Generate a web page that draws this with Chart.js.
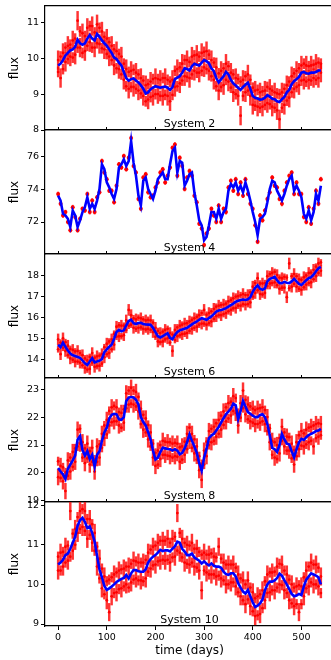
<!DOCTYPE html>
<html>
<head>
<meta charset="utf-8">
<script src="https://cdn.jsdelivr.net/npm/chart.js@4.4.1/dist/chart.umd.min.js"></script>
<style>
  html, body { margin: 0; padding: 0; background: #fff; overflow: hidden; }
  #wrap { position: relative; width: 331px; height: 660px; overflow: hidden; }
  #wrap canvas { position: absolute; left: 0; }
</style>
</head>
<body>
<div id="wrap"></div>
<script>
// observation times (days)
var days = [
  0, 5, 10, 15, 20, 25, 30, 35, 40, 45,
  50, 55, 60, 65, 70, 75, 80, 85, 90, 95,
  100, 105, 110, 115, 120, 125, 130, 135, 140, 145,
  150, 155, 160, 165, 170, 175, 180, 185, 190, 195,
  200, 205, 210, 215, 220, 225, 230, 235, 240, 245,
  250, 255, 260, 265, 270, 275, 280, 285, 290, 295,
  300, 305, 310, 315, 320, 325, 330, 335, 340, 345,
  350, 355, 360, 365, 370, 375, 380, 385, 390, 395,
  400, 405, 410, 415, 420, 425, 430, 435, 440, 445,
  450, 455, 460, 465, 470, 475, 480, 485, 490, 495,
  500, 505, 510, 515, 520, 525, 530, 535, 540
];
var timeTicks = [0, 100, 200, 300, 400, 500];

// System 2
var sys2Ticks = [8, 9, 10, 11];
var sys2Fit = [
  9.80, 9.85, 9.95, 10.08, 10.15, 10.22, 10.25, 10.32, 10.52, 10.42,
  10.38, 10.42, 10.55, 10.65, 10.55, 10.50, 10.68, 10.60, 10.50, 10.42,
  10.35, 10.25, 10.15, 10.02, 9.98, 9.88, 9.80, 9.62, 9.45, 9.38,
  9.42, 9.44, 9.38, 9.33, 9.25, 9.15, 9.02, 9.05, 9.14, 9.18,
  9.22, 9.20, 9.18, 9.20, 9.21, 9.18, 9.12, 9.20, 9.42, 9.46,
  9.50, 9.60, 9.72, 9.70, 9.66, 9.78, 9.85, 9.82, 9.80, 9.88,
  9.95, 9.92, 9.86, 9.72, 9.64, 9.45, 9.33, 9.42, 9.50, 9.62,
  9.55, 9.40, 9.30, 9.24, 9.18, 9.12, 9.20, 9.26, 9.32, 9.15,
  8.95, 8.90, 8.88, 8.85, 8.86, 8.90, 8.97, 8.93, 8.87, 8.86,
  8.80, 8.78, 8.86, 8.92, 9.05, 9.12, 9.28, 9.36, 9.42, 9.48,
  9.60, 9.62, 9.58, 9.57, 9.60, 9.60, 9.62, 9.66, 9.66
];
var sys2ObsA = [
  9.95, 9.45, 10.15, 9.90, 10.35, 10.05, 10.50, 10.10, 11.05, 10.30,
  10.70, 10.20, 10.85, 10.45, 10.90, 10.30, 10.95, 10.40, 10.75, 10.25,
  10.55, 10.05, 10.35, 9.80, 10.20, 9.70, 10.05, 9.40, 9.70, 9.15,
  9.65, 9.20, 9.60, 9.10, 9.45, 8.95, 9.25, 8.85, 9.35, 8.95,
  9.45, 9.00, 9.40, 8.95, 9.45, 8.95, 8.80, 9.40, 9.20, 9.70,
  9.30, 9.85, 9.50, 9.95, 9.45, 10.05, 9.65, 10.10, 9.60, 10.15,
  9.75, 10.20, 9.65, 9.95, 9.40, 9.75, 9.10, 9.65, 9.25, 9.85,
  9.35, 9.60, 9.05, 9.45, 8.95, 8.40, 9.40, 9.05, 9.55, 8.95,
  8.70, 9.10, 8.65, 9.05, 8.65, 9.10, 8.75, 9.15, 8.65, 9.05,
  8.55, 8.30, 9.05, 8.70, 9.25, 8.90, 9.50, 9.15, 9.65, 9.25,
  9.80, 9.40, 9.80, 9.40, 9.80, 9.45, 9.85, 9.45, 9.60
];
var sys2ObsB = [
  9.62, 10.05, 9.70, 10.30, 9.98, 10.38, 10.02, 10.55, 10.30, 10.75,
  10.15, 10.62, 10.35, 10.90, 10.30, 10.72, 10.42, 10.85, 10.28, 10.60,
  10.12, 10.45, 9.95, 10.25, 9.72, 10.12, 9.55, 9.85, 9.22, 9.62,
  9.20, 9.68, 9.15, 9.55, 9.02, 9.38, 8.80, 9.28, 8.92, 9.42,
  9.00, 9.42, 8.95, 9.45, 8.98, 9.40, 9.35, 8.98, 9.65, 9.22,
  9.75, 9.38, 9.95, 9.48, 9.90, 9.55, 10.08, 9.60, 10.05, 9.65,
  10.18, 9.70, 10.10, 9.50, 9.88, 9.22, 9.58, 9.20, 9.72, 9.40,
  9.78, 9.18, 9.55, 9.00, 9.42, 9.35, 8.95, 9.50, 9.10, 9.40,
  9.18, 8.68, 9.12, 8.62, 9.08, 8.70, 9.20, 8.72, 9.10, 8.62,
  9.02, 9.00, 8.62, 9.15, 8.82, 9.35, 9.05, 9.58, 9.20, 9.72,
  9.38, 9.85, 9.35, 9.78, 9.38, 9.82, 9.40, 9.88, 9.85
];

// System 4
var sys4Ticks = [72, 74, 76];
var sys4Fit = [
  73.6, 73.3, 72.5, 72.4, 72.2, 71.7, 72.7, 72.4, 71.7, 72.1,
  72.6, 72.9, 73.5, 72.8, 73.1, 72.8, 73.3, 74.0, 75.5, 75.2,
  74.4, 74.1, 73.7, 73.4, 74.0, 75.3, 75.5, 75.8, 75.4, 75.7,
  76.9, 75.6, 74.8, 73.6, 73.0, 74.5, 74.7, 74.0, 73.7, 73.4,
  73.9, 74.6, 74.8, 75.0, 74.6, 74.6, 75.5, 76.3, 76.5, 75.0,
  75.7, 75.6, 74.2, 74.5, 74.9, 75.0, 73.8, 73.0, 72.1, 71.8,
  70.9, 71.1, 71.8, 72.6, 72.6, 72.2, 72.8, 72.2, 72.6, 72.8,
  73.9, 74.3, 74.1, 74.4, 73.9, 74.2, 73.8, 74.4, 73.9, 73.3,
  72.6, 72.0, 71.2, 72.2, 72.3, 72.5, 73.2, 74.0, 74.5, 74.4,
  73.9, 73.6, 73.3, 73.7, 74.2, 74.6, 74.8, 73.9, 74.2, 73.9,
  73.5, 72.5, 72.2, 72.7, 72.1, 72.6, 73.7, 73.3, 74.2
];
var sys4ObsA = [
  73.7, 73.1, 72.4, 72.6, 72.0, 71.5, 72.9, 72.3, 71.5, 72.2,
  72.8, 72.7, 73.7, 72.6, 73.3, 72.6, 73.5, 73.8, 75.7, 75.0,
  74.6, 73.9, 73.9, 73.2, 74.2, 75.5, 75.3, 76.0, 75.2, 75.9,
  77.1, 75.4, 75.0, 73.4, 72.8, 74.7, 74.9, 73.8, 73.5, 73.6,
  74.1, 74.4, 75.0, 75.2, 74.4, 74.8, 75.3, 76.5, 76.7, 74.8,
  75.9, 75.4, 74.0, 74.7, 75.1, 74.8, 73.6, 73.2, 71.9, 71.6,
  70.6, 71.3, 71.6, 72.8, 72.4, 72.0, 73.0, 72.0, 72.8, 72.6,
  74.1, 74.5, 73.9, 74.6, 73.7, 74.4, 73.6, 74.6, 73.7, 73.1,
  72.8, 71.8, 70.8, 72.4, 72.1, 72.7, 73.4, 73.8, 74.7, 74.2,
  74.1, 73.4, 73.1, 73.9, 74.4, 74.8, 75.0, 73.7, 74.4, 73.7,
  73.7, 72.3, 72.0, 72.9, 71.9, 72.8, 73.9, 73.1, 74.6
];

// System 6
var sys6Ticks = [14, 15, 16, 17, 18];
var sys6Fit = [
  14.70, 14.58, 14.80, 14.60, 14.42, 14.28, 14.20, 14.16, 14.12, 14.08,
  13.95, 13.82, 13.74, 13.90, 14.06, 13.86, 13.90, 13.95, 14.02, 14.35,
  14.48, 14.60, 14.70, 14.98, 15.30, 15.40, 15.33, 15.38, 15.62, 15.82,
  15.88, 15.72, 15.68, 15.73, 15.74, 15.68, 15.66, 15.65, 15.64, 15.50,
  15.30, 15.10, 15.04, 15.10, 15.18, 15.24, 15.02, 14.96, 15.16, 15.30,
  15.38, 15.42, 15.46, 15.50, 15.58, 15.66, 15.74, 15.80, 15.88, 15.96,
  15.92, 15.88, 15.96, 16.04, 16.15, 16.27, 16.32, 16.35, 16.38, 16.43,
  16.50, 16.58, 16.65, 16.74, 16.78, 16.82, 16.84, 16.82, 16.85, 16.95,
  17.20, 17.40, 17.52, 17.35, 17.30, 17.37, 17.70, 17.82, 17.86, 17.92,
  17.75, 17.63, 17.62, 17.68, 17.64, 17.62, 17.70, 17.82, 17.70, 17.58,
  17.53, 17.64, 17.76, 17.85, 17.90, 18.02, 18.18, 18.32, 18.39
];
var sys6ObsA = [
  14.95, 14.25, 15.00, 14.40, 14.65, 14.05, 14.45, 13.90, 14.40, 13.85,
  14.20, 13.60, 13.95, 13.55, 14.30, 13.65, 14.15, 13.70, 14.25, 14.10,
  14.75, 14.30, 14.95, 14.70, 15.55, 15.10, 15.60, 15.15, 15.85, 16.35,
  16.10, 15.50, 15.90, 15.50, 15.95, 15.45, 15.85, 15.45, 15.85, 15.30,
  15.50, 14.85, 15.25, 14.85, 15.40, 15.00, 15.25, 14.40, 15.40, 15.10,
  15.60, 15.20, 15.70, 15.25, 15.80, 15.45, 15.95, 15.55, 16.10, 15.70,
  16.35, 15.65, 16.20, 15.80, 16.40, 16.05, 16.55, 16.10, 16.60, 16.20,
  16.75, 16.35, 16.90, 16.45, 17.00, 16.55, 17.10, 16.60, 17.05, 16.70,
  17.45, 17.15, 17.85, 17.10, 17.60, 17.15, 17.95, 17.60, 18.10, 17.65,
  18.00, 17.35, 17.85, 17.40, 16.95, 18.55, 17.45, 18.05, 17.45, 17.80,
  17.30, 17.90, 17.55, 18.10, 17.65, 18.25, 17.95, 18.55, 18.20
];
var sys6ObsB = [
  14.48, 14.80, 14.55, 14.82, 14.20, 14.50, 13.98, 14.38, 13.90, 14.30,
  13.72, 14.05, 13.52, 14.12, 13.85, 14.08, 13.68, 14.18, 13.80, 14.58,
  14.25, 14.85, 14.48, 15.22, 15.08, 15.62, 15.10, 15.60, 15.40, 15.60,
  15.65, 15.95, 15.45, 15.98, 15.52, 15.90, 15.42, 15.88, 15.40, 15.75,
  15.08, 15.35, 14.82, 15.32, 14.95, 15.45, 14.80, 15.18, 14.92, 15.52,
  15.15, 15.65, 15.22, 15.72, 15.35, 15.88, 15.50, 16.02, 15.65, 16.20,
  15.70, 16.12, 15.72, 16.28, 15.92, 16.50, 16.10, 16.58, 16.15, 16.65,
  16.28, 16.82, 16.42, 16.98, 16.55, 17.05, 16.62, 17.05, 16.62, 17.18,
  16.98, 17.62, 17.28, 17.60, 17.08, 17.62, 17.48, 18.05, 17.62, 18.15,
  17.52, 17.88, 17.40, 17.92, 17.88, 17.38, 17.95, 17.58, 17.95, 17.35,
  17.78, 17.42, 17.98, 17.62, 18.12, 17.80, 18.40, 18.10, 18.60
];

// System 8
var sys8Ticks = [19, 20, 21, 22, 23];
var sys8Fit = [
  20.18, 20.05, 19.95, 19.78, 20.15, 20.30, 20.45, 20.62, 21.20, 21.32,
  20.82, 20.62, 20.78, 20.50, 20.65, 20.22, 20.65, 20.78, 21.15, 21.45,
  21.62, 21.95, 22.08, 22.12, 22.10, 21.92, 21.90, 22.00, 22.58, 22.70,
  22.72, 22.70, 22.62, 22.45, 22.00, 21.82, 21.70, 21.46, 21.20, 20.80,
  20.48, 20.55, 20.75, 20.90, 20.88, 20.86, 20.85, 20.80, 20.85, 20.80,
  20.67, 20.72, 20.88, 21.10, 21.38, 21.15, 20.95, 20.72, 20.35, 20.08,
  20.55, 20.86, 21.25, 21.34, 21.40, 21.52, 21.65, 21.80, 21.96, 22.10,
  22.20, 22.30, 22.48, 22.42, 21.92, 22.22, 22.58, 22.38, 22.18, 22.12,
  22.05, 22.00, 22.00, 22.08, 22.10, 22.00, 21.75, 21.35, 20.90, 20.85,
  20.75, 21.00, 21.40, 21.20, 21.05, 21.02, 20.78, 20.56, 20.85, 21.10,
  21.22, 21.18, 21.28, 21.36, 21.40, 21.44, 21.50, 21.52, 21.58
];
var sys8ObsA = [
  19.85, 20.25, 19.70, 19.35, 20.45, 20.05, 20.75, 20.40, 21.55, 21.05,
  21.10, 20.35, 21.05, 20.30, 20.90, 20.05, 20.95, 20.55, 21.40, 21.25,
  21.90, 21.70, 22.35, 21.85, 22.35, 21.70, 22.15, 21.80, 22.85, 22.45,
  23.05, 22.45, 22.90, 22.20, 22.30, 21.55, 21.95, 21.20, 21.45, 20.55,
  20.25, 20.80, 20.50, 21.15, 20.65, 21.10, 20.60, 21.05, 20.60, 21.05,
  20.40, 20.95, 20.65, 21.40, 21.15, 21.40, 20.70, 20.95, 20.10, 19.75,
  20.80, 20.60, 21.50, 21.10, 21.65, 21.30, 21.90, 21.55, 22.20, 21.85,
  22.50, 22.05, 22.75, 22.15, 21.70, 22.50, 22.95, 22.10, 22.45, 21.85,
  22.30, 21.75, 22.30, 21.80, 22.35, 21.75, 22.00, 21.10, 21.15, 20.55,
  21.00, 20.70, 21.65, 20.95, 21.30, 20.80, 21.05, 20.30, 21.10, 20.85,
  21.50, 20.95, 21.55, 21.10, 21.65, 20.95, 21.75, 21.30, 21.75
];
var sys8ObsB = [
  20.42, 19.82, 20.20, 20.02, 19.90, 20.55, 20.22, 20.88, 20.95, 21.58,
  20.55, 20.88, 20.52, 20.78, 20.40, 20.48, 20.40, 21.02, 20.90, 21.70,
  21.38, 22.22, 21.82, 22.40, 21.85, 22.18, 21.62, 22.28, 22.32, 22.95,
  22.48, 22.95, 22.38, 22.72, 21.75, 22.08, 21.45, 21.72, 20.95, 21.05,
  20.72, 20.30, 21.00, 20.65, 21.12, 20.62, 21.10, 20.55, 21.08, 20.58,
  20.92, 20.48, 21.12, 20.85, 21.62, 20.90, 21.20, 20.48, 20.60, 20.32,
  20.30, 21.12, 21.00, 21.58, 21.15, 21.78, 21.40, 22.05, 21.72, 22.35,
  21.95, 22.55, 22.22, 22.68, 22.15, 21.98, 22.32, 22.62, 21.92, 22.38,
  21.80, 22.25, 21.75, 22.32, 21.85, 22.25, 21.50, 21.60, 20.65, 21.10,
  20.50, 21.25, 21.15, 21.45, 20.80, 21.28, 20.52, 20.82, 20.60, 21.35,
  20.98, 21.42, 21.02, 21.62, 21.15, 21.70, 21.25, 21.78, 21.35
];

// System 10
var sys10Ticks = [9, 10, 11, 12];
var sys10Fit = [
  10.50, 10.55, 10.62, 10.74, 10.78, 10.90, 11.05, 11.20, 11.48, 11.62,
  11.68, 11.58, 11.42, 11.46, 11.30, 11.08, 10.72, 10.38, 10.18, 9.96,
  9.86, 9.90, 9.95, 10.00, 10.06, 10.10, 10.14, 10.16, 10.24, 10.15,
  10.28, 10.36, 10.36, 10.33, 10.32, 10.32, 10.38, 10.55, 10.64, 10.70,
  10.74, 10.80, 10.87, 10.84, 10.86, 10.86, 10.83, 10.90, 10.96, 11.08,
  11.05, 10.90, 10.83, 10.74, 10.74, 10.78, 10.68, 10.64, 10.60, 10.53,
  10.58, 10.52, 10.48, 10.53, 10.47, 10.45, 10.45, 10.42, 10.32, 10.26,
  10.24, 10.28, 10.28, 10.20, 10.03, 9.92, 9.82, 9.77, 9.86, 9.70,
  9.55, 9.43, 9.46, 9.52, 9.62, 9.85, 10.00, 10.07, 10.07, 10.10,
  10.16, 10.27, 10.22, 10.10, 10.00, 9.88, 9.76, 9.70, 9.72, 9.76,
  9.73, 9.95, 10.12, 10.20, 10.28, 10.25, 10.22, 10.18, 10.00
];
var sys10ObsA = [
  10.35, 10.80, 10.45, 10.95, 10.60, 11.85, 10.85, 11.40, 11.30, 11.85,
  11.45, 11.85, 11.15, 11.65, 11.05, 11.30, 10.45, 10.65, 9.90, 10.20,
  9.60, 9.30, 9.70, 10.25, 9.80, 10.35, 9.90, 10.40, 10.00, 10.45,
  10.05, 10.60, 10.15, 10.55, 10.10, 10.55, 10.15, 10.80, 10.40, 10.95,
  10.50, 11.05, 10.60, 11.10, 10.60, 11.15, 10.55, 11.15, 10.70, 11.80,
  10.80, 11.15, 10.55, 11.00, 10.50, 11.05, 10.45, 10.90, 10.35, 9.85,
  10.80, 10.30, 10.75, 10.25, 10.70, 10.20, 10.95, 10.15, 10.55, 10.00,
  10.50, 10.05, 10.50, 9.95, 10.25, 9.70, 10.10, 9.50, 10.10, 9.45,
  9.80, 9.20, 9.70, 9.25, 9.85, 9.60, 10.25, 9.80, 10.30, 9.85,
  10.45, 10.00, 10.50, 9.85, 10.25, 9.60, 10.00, 9.45, 9.95, 9.30,
  9.95, 9.70, 10.35, 9.95, 10.55, 10.00, 10.50, 9.95, 10.20
];
var sys10ObsB = [
  10.70, 10.35, 10.82, 10.55, 10.98, 10.70, 11.28, 11.00, 11.70, 11.40,
  11.90, 11.35, 11.65, 11.25, 11.52, 10.85, 10.95, 10.15, 10.40, 9.75,
  10.08, 10.12, 10.18, 9.78, 10.30, 9.88, 10.38, 9.95, 10.45, 9.92,
  10.52, 10.12, 10.58, 10.10, 10.55, 10.08, 10.62, 10.32, 10.88, 10.48,
  10.98, 10.58, 11.10, 10.62, 11.10, 10.62, 11.05, 10.68, 11.20, 10.85,
  11.30, 10.68, 11.05, 10.52, 10.98, 10.55, 10.90, 10.42, 10.82, 10.75,
  10.35, 10.75, 10.25, 10.78, 10.25, 10.68, 10.22, 10.65, 10.10, 10.50,
  10.00, 10.50, 10.05, 10.42, 9.80, 10.15, 9.60, 10.00, 9.62, 9.92,
  9.32, 9.65, 9.22, 9.75, 9.40, 10.08, 9.78, 10.30, 9.85, 10.32,
  9.92, 10.52, 9.98, 10.35, 9.78, 10.12, 9.52, 9.92, 9.50, 9.98,
  9.50, 10.18, 9.90, 10.45, 10.05, 10.50, 10.00, 10.42, 9.78
];

var FONT = '"DejaVu Sans", sans-serif';

// error bar half-lengths go with each flux series
var panels = [
  { name: 'System 2',  fit: sys2Fit,  obs: [sys2ObsA, sys2ObsB],   err: [0.26, 0.14], ticks: sys2Ticks,  ymin: 8.0,   ymax: 11.46, top: 6 },
  { name: 'System 4',  fit: sys4Fit,  obs: [sys4ObsA],             err: [0.12],       ticks: sys4Ticks,  ymin: 70.06, ymax: 77.58, top: 130 },
  { name: 'System 6',  fit: sys6Fit,  obs: [sys6ObsA, sys6ObsB],   err: [0.26, 0.14], ticks: sys6Ticks,  ymin: 13.12, ymax: 19.0,  top: 254 },
  { name: 'System 8',  fit: sys8Fit,  obs: [sys8ObsA, sys8ObsB],   err: [0.28, 0.15], ticks: sys8Ticks,  ymin: 18.96, ymax: 23.4,  top: 378 },
  { name: 'System 10', fit: sys10Fit, obs: [sys10ObsA, sys10ObsB], err: [0.22, 0.12], ticks: sys10Ticks, ymin: 8.95,  ymax: 12.08, top: 502 }
];

// subplot title sits inside the axes, just above the bottom spine
var insideTitle = {
  id: 'insideTitle',
  afterDraw: function (chart, args, opts) {
    var ctx = chart.ctx, area = chart.chartArea;
    ctx.save();
    ctx.font = '11px ' + FONT;
    ctx.fillStyle = '#000';
    ctx.textAlign = 'center';
    ctx.textBaseline = 'alphabetic';
    ctx.fillText(opts.text, (area.left + area.right) / 2, area.bottom - 3.5);
    ctx.restore();
  }
};

function fixedTicks(values) {
  return function (scale) {
    scale.ticks = values.map(function (v) { return { value: v }; });
  };
}

var wrap = document.getElementById('wrap');

panels.forEach(function (p, i) {
  var last = i === panels.length - 1;
  var sparse = p.obs.length === 1;
  var padTop = 10, padBottom = last ? 34 : 8, h = 124;
  var canvas = document.createElement('canvas');
  canvas.width = 340;
  canvas.height = h + padTop + padBottom;
  canvas.style.top = (p.top - padTop) + 'px';
  wrap.appendChild(canvas);

  var datasets = [{
    type: 'line', xAxisID: 'x', yAxisID: 'y', order: 0,
    data: days.map(function (d, k) { return { x: d, y: p.fit[k] }; }),
    borderColor: '#0000ff', borderWidth: 2.6, pointRadius: 0, fill: false, tension: 0
  }];

  // each flux series: a dot plus a vertical error bar
  p.obs.forEach(function (series, s) {
    var e = p.err[s];
    datasets.push({
      type: 'scatter', xAxisID: 'x', yAxisID: 'y', order: 1,
      data: days.map(function (d, k) { return { x: d, y: series[k] }; }),
      pointRadius: sparse ? 2 : 1.4, backgroundColor: '#ff0000', borderWidth: 0
    });
    datasets.push({
      type: 'bar', xAxisID: 'x', yAxisID: 'y', order: 2, grouped: false,
      data: days.map(function (d, k) { return { x: d, y: [series[k] - e, series[k] + e] }; }),
      backgroundColor: 'rgba(255,0,0,0.8)', barThickness: sparse ? 1.2 : 1.8
    });
  });

  new Chart(canvas, {
    type: 'line',
    data: { datasets: datasets },
    options: {
      responsive: false,
      animation: false,
      devicePixelRatio: 1,
      layout: { padding: { left: 0, right: 6, top: 0, bottom: 0 } },
      plugins: {
        legend: { display: false },
        tooltip: { enabled: false },
        insideTitle: { text: p.name }
      },
      scales: {
        x: {
          type: 'linear', position: 'bottom', min: -27, max: 567, offset: false,
          afterBuildTicks: fixedTicks(timeTicks),
          afterFit: function (s) { s.height = padBottom; },
          ticks: { display: last, maxRotation: 0, font: { family: FONT, size: 9.5 }, color: '#000', padding: 2 },
          grid: { offset: false, drawOnChartArea: false, drawTicks: last, tickLength: 4, color: '#000' },
          border: { display: true, color: '#000', width: 1.2 },
          title: { display: last, text: 'time (days)', color: '#000',
                   font: { family: FONT, size: 12 }, padding: { top: 0, bottom: 2 } }
        },
        xTop: {
          type: 'linear', position: 'top', min: -27, max: 567, offset: false,
          afterBuildTicks: fixedTicks(timeTicks),
          afterFit: function (s) { s.height = padTop; },
          ticks: { display: false },
          grid: { offset: false, drawOnChartArea: false, drawTicks: i > 0, tickLength: 3, color: '#000' },
          border: { display: true, color: '#000', width: 1.2 }
        },
        y: {
          position: 'left', min: p.ymin, max: p.ymax,
          afterBuildTicks: fixedTicks(p.ticks),
          afterFit: function (s) { s.width = 45; },
          ticks: { font: { family: FONT, size: 9.5 }, color: '#000', padding: 2 },
          grid: { drawOnChartArea: false, tickLength: 4, color: '#000' },
          border: { display: true, color: '#000', width: 1.2 },
          title: { display: true, text: 'flux', color: '#000', font: { family: FONT, size: 12 },
                   padding: { top: 8, bottom: 0 } }
        }
      }
    },
    plugins: [insideTitle]
  });
});
</script>
</body>
</html>
